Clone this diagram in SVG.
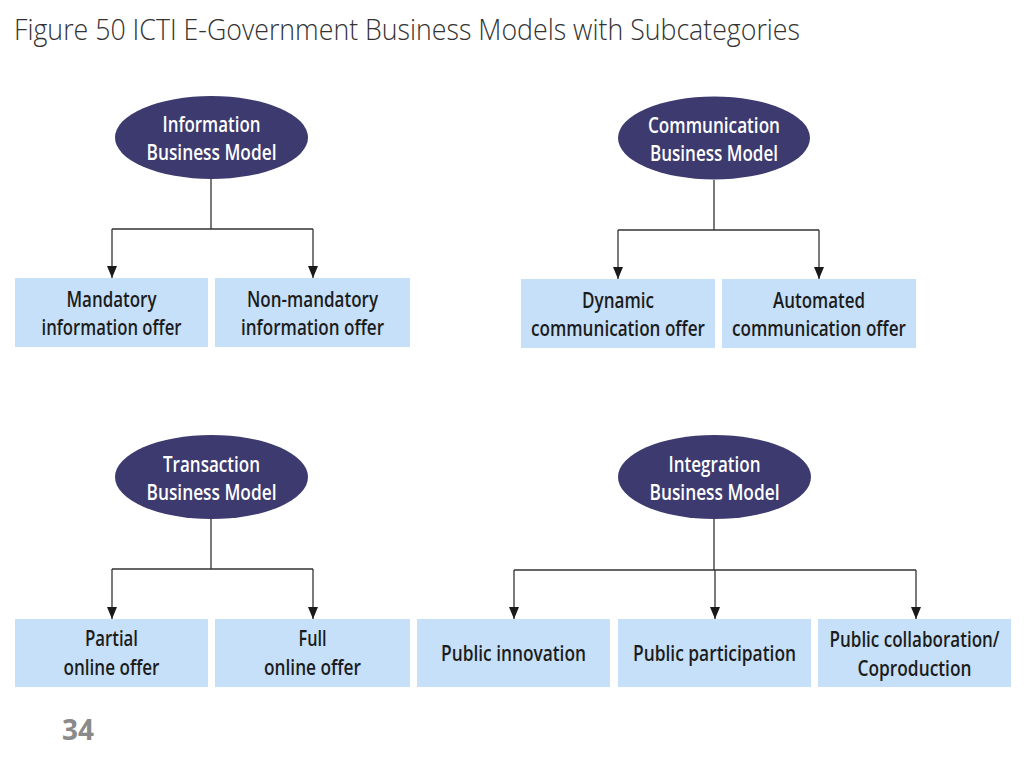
<svg xmlns="http://www.w3.org/2000/svg" width="1024" height="768" viewBox="0 0 1024 768">
<defs>
<marker id="arr" viewBox="0 0 12 10" refX="12" refY="5" markerWidth="12" markerHeight="10" markerUnits="userSpaceOnUse" orient="auto">
<path d="M0,0 L12,5 L0,10 Z" fill="#1a1a1a"/>
</marker>
<style>
.title{font-family:"Open Sans","Liberation Sans",sans-serif;font-size:29px;font-weight:300;fill:#333333}
.ell{fill:#3c3a6e}
.et{font-family:"Open Sans","Liberation Sans",sans-serif;font-size:21px;font-weight:600;fill:#ffffff;text-anchor:middle}
.box{fill:#c6e0fa}
.bt{font-family:"Open Sans","Liberation Sans",sans-serif;font-size:22px;font-weight:600;fill:#1c1c1c;text-anchor:middle}
.ln{fill:none;stroke:#333333;stroke-width:1.3}
.arw{fill:none;stroke:#333333;stroke-width:1.3;marker-end:url(#arr)}
.pg{font-family:"Open Sans","Liberation Sans",sans-serif;font-size:28px;font-weight:700;fill:#8a8a8a}
</style>
</defs>
<rect width="1024" height="768" fill="#ffffff"/>
<text class="title" x="14" y="40" textLength="786" lengthAdjust="spacingAndGlyphs">Figure 50 ICTI E-Government Business Models with Subcategories</text>

<g id="connectors">
<path class="ln" d="M211,179 V229 M112,229 H313"/>
<path class="arw" d="M112,229 V278"/>
<path class="arw" d="M313,229 V278"/>
<path class="ln" d="M714,180 V230 M618,230 H819"/>
<path class="arw" d="M618,230 V279"/>
<path class="arw" d="M819,230 V279"/>
<path class="ln" d="M211,519 V569 M112,569 H313"/>
<path class="arw" d="M112,569 V619"/>
<path class="arw" d="M313,569 V619"/>
<path class="ln" d="M714,519 V570 M514,570 H916"/>
<path class="arw" d="M514,570 V619"/>
<path class="arw" d="M715,570 V619"/>
<path class="arw" d="M916,570 V619"/>
</g>

<g id="information">
<ellipse class="ell" cx="211.5" cy="137.5" rx="96.5" ry="41.5"/>
<text class="et" x="211.5" y="132" textLength="98" lengthAdjust="spacingAndGlyphs">Information</text>
<text class="et" x="211.5" y="160" textLength="130" lengthAdjust="spacingAndGlyphs">Business Model</text>
</g>
<g id="mandatory">
<rect class="box" x="15" y="278" width="193" height="69"/>
<text class="bt" x="111.5" y="307" textLength="90" lengthAdjust="spacingAndGlyphs">Mandatory</text>
<text class="bt" x="111.5" y="335" textLength="140" lengthAdjust="spacingAndGlyphs">information offer</text>
</g>
<g id="nonmandatory">
<rect class="box" x="215" y="278" width="195" height="69"/>
<text class="bt" x="312.5" y="307" textLength="131" lengthAdjust="spacingAndGlyphs">Non-mandatory</text>
<text class="bt" x="312.5" y="335" textLength="143" lengthAdjust="spacingAndGlyphs">information offer</text>
</g>

<g id="communication">
<ellipse class="ell" cx="714" cy="138" rx="96" ry="41.5"/>
<text class="et" x="714" y="133" textLength="132" lengthAdjust="spacingAndGlyphs">Communication</text>
<text class="et" x="714" y="161" textLength="128" lengthAdjust="spacingAndGlyphs">Business Model</text>
</g>
<g id="dynamic">
<rect class="box" x="521" y="279" width="194" height="69"/>
<text class="bt" x="618" y="308" textLength="72" lengthAdjust="spacingAndGlyphs">Dynamic</text>
<text class="bt" x="618" y="336" textLength="174" lengthAdjust="spacingAndGlyphs">communication offer</text>
</g>
<g id="automated">
<rect class="box" x="722" y="279" width="194" height="69"/>
<text class="bt" x="819" y="308" textLength="92" lengthAdjust="spacingAndGlyphs">Automated</text>
<text class="bt" x="819" y="336" textLength="174" lengthAdjust="spacingAndGlyphs">communication offer</text>
</g>

<g id="transaction">
<ellipse class="ell" cx="211.5" cy="477" rx="96.5" ry="42"/>
<text class="et" x="211.5" y="472" textLength="97" lengthAdjust="spacingAndGlyphs">Transaction</text>
<text class="et" x="211.5" y="500" textLength="130" lengthAdjust="spacingAndGlyphs">Business Model</text>
</g>
<g id="partial">
<rect class="box" x="15" y="619" width="193" height="68"/>
<text class="bt" x="111.5" y="646" textLength="53" lengthAdjust="spacingAndGlyphs">Partial</text>
<text class="bt" x="111.5" y="675" textLength="96" lengthAdjust="spacingAndGlyphs">online offer</text>
</g>
<g id="full">
<rect class="box" x="215" y="619" width="195" height="68"/>
<text class="bt" x="312.5" y="646" textLength="28" lengthAdjust="spacingAndGlyphs">Full</text>
<text class="bt" x="312.5" y="675" textLength="97" lengthAdjust="spacingAndGlyphs">online offer</text>
</g>

<g id="integration">
<ellipse class="ell" cx="714.5" cy="477" rx="96.5" ry="42"/>
<text class="et" x="714.5" y="472" textLength="92" lengthAdjust="spacingAndGlyphs">Integration</text>
<text class="et" x="714.5" y="500" textLength="130" lengthAdjust="spacingAndGlyphs">Business Model</text>
</g>
<g id="innovation">
<rect class="box" x="417" y="619" width="193" height="68"/>
<text class="bt" x="513.5" y="661" textLength="145" lengthAdjust="spacingAndGlyphs">Public innovation</text>
</g>
<g id="participation">
<rect class="box" x="618" y="619" width="193" height="68"/>
<text class="bt" x="714.5" y="661" textLength="163" lengthAdjust="spacingAndGlyphs">Public participation</text>
</g>
<g id="collaboration">
<rect class="box" x="818" y="619" width="193" height="68"/>
<text class="bt" x="914.5" y="647" textLength="170" lengthAdjust="spacingAndGlyphs">Public collaboration/</text>
<text class="bt" x="914.5" y="676" textLength="114" lengthAdjust="spacingAndGlyphs">Coproduction</text>
</g>

<text class="pg" x="62" y="740">34</text>
</svg>
